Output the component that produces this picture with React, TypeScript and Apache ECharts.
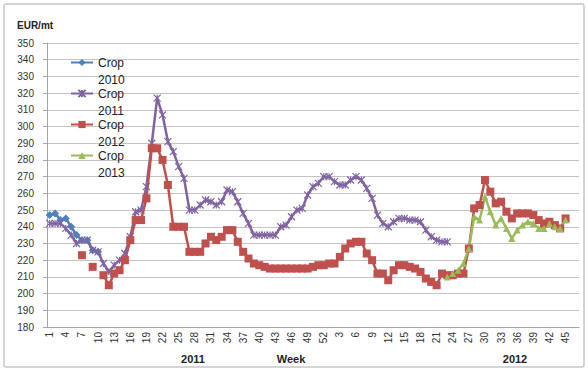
import React, { useEffect, useRef } from "react";
import * as echarts from "echarts";

// Categories: 2011 weeks 1..52, then 2012 weeks 1..47
const weeks2011: string[] = Array.from({ length: 52 }, (_, i) => String(i + 1));
const weeks2012: string[] = Array.from({ length: 47 }, (_, i) => String(i + 1));
const categories: string[] = [...weeks2011, ...weeks2012];
const N = categories.length;

const seriesNames = ["Crop 2010", "Crop 2011", "Crop 2012", "Crop 2013"];
const colors = ["#4F81BD", "#8064A2", "#C0504D", "#9BBB59"];

// Crop 2010 starts at index 0
const crop2010Start = 0;
const crop2010 = [247, 248, 244, 245, 240, 235, 232, 232, 226, 225];

// Crop 2011 starts at index 0
const crop2011Start = 0;
const crop2011 = [
  242, 242, 242, 239, 235, 230, 232, 232, 226, 225,
  218, 213, 217, 220, 224, 234, 249, 250, 264, 290,
  317, 307, 291, 285, 276, 269, 250, 250, 253, 256,
  255, 253, 255, 262, 261, 255, 248, 242, 235, 235,
  235, 235, 235, 240, 241, 246, 250, 251, 259, 264,
  266, 270, 270, 267, 265, 265, 268, 270, 268, 263,
  257, 247, 242, 240, 243, 245, 245, 244, 244, 243,
  238, 234, 232, 231, 231,
];

// Crop 2012 starts at index 6 (isolated points at weeks 7 and 9)
const crop2012Start = 6;
const crop2012 = [
  223, null, 216, null, 211, 205, 212, 214, 220, 232,
  244, 244, 257, 287, 287, 280, 265, 240, 240, 240,
  225, 225, 225, 230, 234, 232, 234, 238, 238, 231,
  225, 221, 218, 217, 216, 215, 215, 215, 215, 215,
  215, 215, 215, 216, 217, 217, 218, 218, 222, 227,
  230, 231, 231, 224, 220, 212, 212, 208, 214, 217,
  217, 216, 215, 213, 209, 207, 205, 212, 211, 211,
  212, 212, 227, 251, 253, 268, 261, 254, 255, 249,
  245, 248, 248, 248, 247, 244, 242, 243, 241, 239,
  245,
];

// Crop 2013 starts at index 74
const crop2013Start = 74;
const crop2013 = [
  210, 212, 214, 218, 227, 246, 244, 258, 249, 241,
  245, 239, 233, 238, 241, 243, 242, 239, 239, 242,
  240, 239, 244,
];

const yMin = 180;
const yMax = 350;
const yInterval = 10;

function place(start: number, vals: (number | null)[]): (number | null)[] {
  const out: (number | null)[] = new Array(N).fill(null);
  vals.forEach((v, k) => {
    out[start + k] = v;
  });
  return out;
}

const FONT = "'Liberation Sans', Arial, sans-serif";

export default function App() {
  const ref = useRef<HTMLDivElement>(null);

  useEffect(() => {
    if (!ref.current) return;
    const chart = echarts.init(ref.current, undefined, { renderer: "svg" });

    const xPath = "path://M0,0L10,10M10,0L0,10M5,0L5,10";

    const mk = (
      name: string,
      data: (number | null)[],
      color: string,
      symbol: string,
      size: number,
      extraItem: any = {}
    ) => ({
      name,
      type: "line",
      data,
      symbol,
      symbolSize: size,
      showSymbol: true,
      showAllSymbol: true,
      connectNulls: false,
      lineStyle: { color, width: 2.5 },
      itemStyle: { color, ...extraItem },
      z: 2,
    });

    chart.setOption({
      animation: false,
      backgroundColor: "#ffffff",
      textStyle: { fontFamily: FONT },
      color: colors,
      grid: { left: 47, right: 9, top: 43, bottom: 45, containLabel: false },
      legend: {
        orient: "vertical",
        left: 70,
        top: 37,
        padding: 0,
        itemWidth: 22,
        itemHeight: 9,
        itemGap: -20,
        data: seriesNames,
        formatter: (name: string) => "\n" + name.replace(" ", "\n"),
        textStyle: {
          fontFamily: FONT,
          fontSize: 12,
          color: "#222",
          lineHeight: 17,
        },
      },
      xAxis: {
        type: "category",
        data: categories,
        boundaryGap: true,
        axisLine: { show: true, lineStyle: { color: "#a6a6a6", width: 1 } },
        axisTick: { show: false },
        axisLabel: {
          interval: 2,
          rotate: 90,
          fontSize: 10,
          margin: 5,
          color: "#333",
          fontFamily: FONT,
        },
        splitLine: { show: false },
      },
      yAxis: {
        type: "value",
        min: yMin,
        max: yMax,
        interval: yInterval,
        axisLine: { show: true, lineStyle: { color: "#a6a6a6", width: 1 } },
        axisTick: { show: true, length: 4, lineStyle: { color: "#a6a6a6" } },
        axisLabel: { fontSize: 10, margin: 13, color: "#333", fontFamily: FONT },
        splitLine: { show: true, lineStyle: { color: "#c4c4c4", width: 1 } },
      },
      series: [
        mk(seriesNames[0], place(crop2010Start, crop2010), colors[0], "diamond", 8),
        mk(seriesNames[1], place(crop2011Start, crop2011), colors[1], xPath, 7, {
          borderColor: colors[1],
          borderWidth: 1.2,
        }),
        mk(seriesNames[2], place(crop2012Start, crop2012), colors[2], "rect", 8),
        mk(seriesNames[3], place(crop2013Start, crop2013), colors[3], "triangle", 7),
      ],
      graphic: [
        {
          type: "rect",
          shape: { x: 4, y: 4, width: 580, height: 363, r: 2 },
          style: { fill: "none", stroke: "#c8c8c8", lineWidth: 1.5 },
          silent: true,
          z: -1,
        },
        {
          type: "text",
          x: 17,
          y: 20,
          style: { text: "EUR/mt", font: `bold 10px ${FONT}`, fill: "#222" },
        },
        {
          type: "text",
          x: 193,
          y: 353,
          style: { text: "2011", font: `bold 11px ${FONT}`, fill: "#222", align: "center" },
        },
        {
          type: "text",
          x: 291,
          y: 353,
          style: { text: "Week", font: `bold 11px ${FONT}`, fill: "#222", align: "center" },
        },
        {
          type: "text",
          x: 515,
          y: 353,
          style: { text: "2012", font: `bold 11px ${FONT}`, fill: "#222", align: "center" },
        },
      ],
    });

    return () => {
      chart.dispose();
    };
  }, []);

  return (
    <div
      ref={ref}
      style={{ position: "fixed", left: 0, top: 0, width: 588, height: 372, background: "#fff" }}
    />
  );
}
